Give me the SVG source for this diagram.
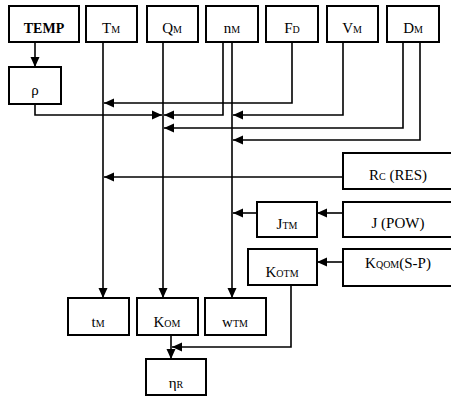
<svg xmlns="http://www.w3.org/2000/svg" width="451" height="399" viewBox="0 0 451 399" font-family="'Liberation Serif', 'Times New Roman', 'DejaVu Serif', serif">
<style>
text{font-family:'Liberation Serif','Times New Roman','DejaVu Serif',serif}
.box{fill:#fff;stroke:#000;stroke-width:2}
.t{font-size:15px;fill:#000;text-anchor:middle}
.b{font-weight:bold;font-size:14px}
.s{font-size:10px}
.c{fill:none;stroke:#000;stroke-width:1.6}
</style>
<defs>
<marker id="ah" markerUnits="userSpaceOnUse" markerWidth="10" markerHeight="10" viewBox="0 0 10 10" refX="10" refY="5" orient="auto">
<path d="M0,0.5 L10,5 L0,9.5 Z" fill="#000"/>
</marker>
</defs>
<rect width="451" height="399" fill="#fff"/>
<g id="connectors">
<path class="c" d="M35,42 V67" marker-end="url(#ah)"/>
<path class="c" d="M103,42 V298" marker-end="url(#ah)"/>
<path class="c" d="M163,42 V298" marker-end="url(#ah)"/>
<path class="c" d="M232,42 V298" marker-end="url(#ah)"/>
<path class="c" d="M223,42 V115 H164" marker-end="url(#ah)"/>
<path class="c" d="M292,42 V103 H104" marker-end="url(#ah)"/>
<path class="c" d="M35,104 V115 H162" marker-end="url(#ah)"/>
<path class="c" d="M343,42 V115 H233" marker-end="url(#ah)"/>
<path class="c" d="M403,42 V128 H164" marker-end="url(#ah)"/>
<path class="c" d="M420,42 V140 H233" marker-end="url(#ah)"/>
<path class="c" d="M343,177 H104" marker-end="url(#ah)"/>
<path class="c" d="M343,213 H317" marker-end="url(#ah)"/>
<path class="c" d="M257,213 H233" marker-end="url(#ah)"/>
<path class="c" d="M343,262 H317" marker-end="url(#ah)"/>
<path class="c" d="M291,285 V347 H172" marker-end="url(#ah)"/>
<path class="c" d="M171,335 V359" marker-end="url(#ah)"/>
</g>
<g id="temp"><rect class="box" x="9" y="6" width="70" height="36"/><text class="t b" x="44" y="33">TEMP</text></g>
<g id="tm"><rect class="box" x="86" y="6" width="51" height="36"/><text class="t" x="111" y="33">T<tspan class="s">M</tspan></text></g>
<g id="qm"><rect class="box" x="147" y="6" width="51" height="36"/><text class="t" x="172" y="33">Q<tspan class="s">M</tspan></text></g>
<g id="nm"><rect class="box" x="206" y="6" width="52" height="36"/><text class="t" x="232" y="33">n<tspan class="s">M</tspan></text></g>
<g id="fd"><rect class="box" x="266" y="6" width="52" height="36"/><text class="t" x="292" y="33">F<tspan class="s">D</tspan></text></g>
<g id="vm"><rect class="box" x="327" y="6" width="51" height="36"/><text class="t" x="352" y="33">V<tspan class="s">M</tspan></text></g>
<g id="dm"><rect class="box" x="387" y="6" width="52" height="36"/><text class="t" x="413" y="33">D<tspan class="s">M</tspan></text></g>
<g id="rho"><rect class="box" x="9" y="67" width="52" height="37"/><text class="t" x="35" y="95">ρ</text></g>
<g id="rc"><rect class="box" x="343" y="153" width="115" height="36"/><text class="t" x="398" y="180">R<tspan class="s">C</tspan> (RES)</text></g>
<g id="jtm"><rect class="box" x="257" y="202" width="60" height="35"/><text class="t" x="287" y="229">J<tspan class="s">TM</tspan></text></g>
<g id="jpow"><rect class="box" x="343" y="202" width="115" height="35"/><text class="t" x="398" y="228">J (POW)</text></g>
<g id="kotm"><rect class="box" x="248" y="249" width="69" height="36"/><text class="t" x="282" y="277">K<tspan class="s">OTM</tspan></text></g>
<g id="kqom"><rect class="box" x="343" y="249" width="115" height="37"/><text class="t" x="398" y="268">K<tspan class="s">QOM</tspan>(S-P)</text></g>
<g id="tmo"><rect class="box" x="68" y="298" width="61" height="37"/><text class="t" x="98" y="327">t<tspan class="s">M</tspan></text></g>
<g id="kom"><rect class="box" x="137" y="298" width="61" height="37"/><text class="t" x="167" y="327">K<tspan class="s">OM</tspan></text></g>
<g id="wtm"><rect class="box" x="205" y="298" width="61" height="37"/><text class="t" x="235" y="327">w<tspan class="s">TM</tspan></text></g>
<g id="etar"><rect class="box" x="146" y="359" width="60" height="36"/><text class="t" x="176" y="388">η<tspan class="s">R</tspan></text></g>
</svg>
